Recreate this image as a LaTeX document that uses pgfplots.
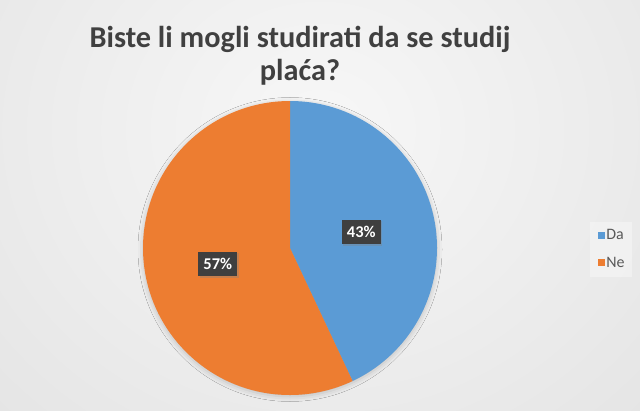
\documentclass[border=0pt]{standalone}
\usepackage{pgfplots}
\pgfplotsset{compat=1.18}
\usepackage{pgfplotstable}
\usepackage{fontspec}
\setmainfont{Carlito}
\usetikzlibrary{shadows,shadows.blur}

\definecolor{daBlue}{HTML}{5B9BD5}
\definecolor{neOrange}{HTML}{ED7D31}
\definecolor{titleGray}{HTML}{404040}
\definecolor{legendGray}{HTML}{595959}
\definecolor{boxGray}{HTML}{3F3F3F}
\definecolor{bgEdge}{HTML}{D3D3D3}

\pgfdeclareradialshading{chartbg}{\pgfpoint{0bp}{0bp}}{color(0bp)=(white!97!black); color(50bp)=(bgEdge)}

% odgovori (postotak)
\pgfplotstableread{
odgovor postotak
Da 43
Ne 57
}\piedata

\pgfplotstablegetelem{0}{postotak}\of\piedata \let\pDa\pgfplotsretval
\pgfplotstablegetelem{1}{postotak}\of\piedata \let\pNe\pgfplotsretval

% kutovi (od 12 sati, u smjeru kazaljke)
\pgfmathsetmacro\aDa{90-3.6*\pDa}
\pgfmathsetmacro\mDa{90-1.8*\pDa}
\pgfmathsetmacro\mNe{\aDa-1.8*\pNe}
\pgfmathsetmacro\xDa{290+73*cos(\mDa)}
\pgfmathsetmacro\yDa{162+73*sin(\mDa)}
\pgfmathsetmacro\xNe{290+74*cos(\mNe)}
\pgfmathsetmacro\yNe{162+74*sin(\mNe)}

\begin{document}
\begin{tikzpicture}[x=1bp,y=1bp]
\begin{scope}
  \clip (0,0) rectangle (640,410);
  \shade[shading=chartbg] (-130,-120) rectangle (770,680);
\end{scope}
\begin{axis}[
    at={(0,0)}, anchor=south west,
    width=640bp, height=410bp, scale only axis,
    xmin=0, xmax=640, ymin=0, ymax=410,
    hide axis, clip=false,
    legend cell align=left,
    legend style={
        at={(0.929,0.45)}, anchor=north west,
        draw=none, fill=none,
        row sep=13bp,
        nodes={inner sep=1.5bp, font=\fontsize{16}{19}\selectfont, text=legendGray},
    },
    legend image code/.code={\fill[#1, draw=none, fill opacity=1] (0bp,-3.5bp) rectangle (7bp,3.5bp);},
]
\addlegendimage{fill=daBlue}
\addlegendentry{Da}
\addlegendimage{fill=neOrange}
\addlegendentry{Ne}

% blijeda podloga legende
\fill[white, opacity=0.35] (axis cs:590,133) rectangle (axis cs:632,188);

\path[blur shadow={shadow xshift=0bp, shadow yshift=-1.5bp, shadow blur radius=7bp, shadow opacity=30}]
    (axis cs:290,162) circle[radius=145bp];
\fill[daBlue] (axis cs:290,162) -- (axis cs:290,309)
    arc[start angle=90, end angle=\aDa, radius=147bp] -- cycle;
\fill[neOrange] (axis cs:290,162) -- (axis cs:290,309)
    arc[start angle=90, end angle=\aDa+360, radius=147bp] -- cycle;

\node[anchor=base, font=\bfseries\fontsize{30.4}{36}\selectfont, text=titleGray]
    at (axis cs:300,363) {Biste li mogli studirati da se studij};
\node[anchor=base, font=\bfseries\fontsize{30.4}{36}\selectfont, text=titleGray]
    at (axis cs:300,330) {plaća?};

\tikzset{pct/.style={fill=boxGray, text=white, font=\bfseries\fontsize{16.5}{18}\selectfont,
    text height=10.5bp, text depth=0bp, inner xsep=5bp, inner ysep=7bp,
    drop shadow={shadow xshift=1.5bp, shadow yshift=-1.5bp, opacity=0.35}}}
\node[pct] at (axis cs:\xDa,\yDa) {\pDa\%};
\node[pct] at (axis cs:\xNe,\yNe) {\pNe\%};
\end{axis}
\end{tikzpicture}
\end{document}
